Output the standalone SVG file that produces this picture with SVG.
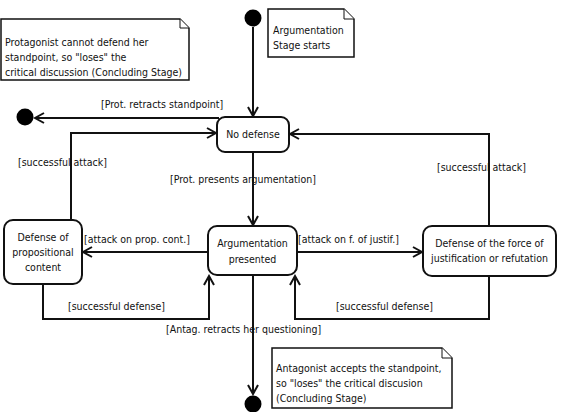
<svg xmlns="http://www.w3.org/2000/svg" width="562" height="412" viewBox="0 0 562 412">
<style>
text{font-family:"DejaVu Sans Condensed","Liberation Sans",sans-serif;font-size:10.5px;fill:#111}
.c{text-anchor:middle}
.st{fill:#fff;stroke:#111;stroke-width:2}
.note{fill:#fff;stroke:#111;stroke-width:1.5}
.fold{fill:#fff;stroke:#111;stroke-width:1}
.ln{fill:none;stroke:#111;stroke-width:2}
.dot{fill:#000}
</style>
<defs>
<marker id="a" markerWidth="12" markerHeight="12" refX="10" refY="6" orient="auto" markerUnits="userSpaceOnUse">
<path d="M1,1 L10,6 L1,11" fill="none" stroke="#111" stroke-width="2"/>
</marker>
</defs>
<rect width="562" height="412" fill="#fff"/>

<g id="note-protagonist">
<path class="note" d="M1,19 H180 L189,28 V80 H1 Z"/>
<path class="fold" d="M180,19 V28 H189"/>
<text x="5" y="46">Protagonist cannot defend her</text>
<text x="5" y="61">standpoint, so "loses" the</text>
<text x="5" y="76">critical discussion (Concluding Stage)</text>
</g>

<g id="note-start">
<path class="note" d="M268,9 H344 L354,19 V57 H268 Z"/>
<path class="fold" d="M344,9 V19 H354"/>
<text x="273" y="34">Argumentation</text>
<text x="273" y="49">Stage starts</text>
</g>

<g id="note-antagonist">
<path class="note" d="M272,348 H442 L452,358 V408 H272 Z"/>
<path class="fold" d="M442,348 V358 H452"/>
<text x="276" y="372">Antagonist accepts the standpoint,</text>
<text x="276" y="387">so "loses" the critical discusion</text>
<text x="276" y="402">(Concluding Stage)</text>
</g>

<g id="initial"><circle class="dot" cx="253" cy="18" r="8.5"/></g>
<g id="final-left"><circle class="dot" cx="25" cy="117" r="8.5"/></g>
<g id="final-bottom"><circle class="dot" cx="253" cy="404" r="8.5"/></g>

<g id="no-defense">
<rect class="st" x="217" y="117" width="72" height="35" rx="8"/>
<text class="c" x="253" y="138">No defense</text>
</g>

<g id="argumentation-presented">
<rect class="st" x="208" y="226" width="89" height="49" rx="9"/>
<text class="c" x="252.5" y="247">Argumentation</text>
<text class="c" x="252.5" y="263">presented</text>
</g>

<g id="defense-prop">
<rect class="st" x="4" y="220" width="78" height="64" rx="9"/>
<text class="c" x="43" y="241">Defense of</text>
<text class="c" x="43" y="256">propositional</text>
<text class="c" x="43" y="271">content</text>
</g>

<g id="defense-force">
<rect class="st" x="423" y="226" width="133" height="50" rx="9"/>
<text class="c" x="489.5" y="247">Defense of the force of</text>
<text class="c" x="489.5" y="262">justification or refutation</text>
</g>

<g id="connectors">
<path class="ln" d="M253,27 V116" marker-end="url(#a)"/>
<path class="ln" d="M219,118 H35" marker-end="url(#a)"/>
<path class="ln" d="M71,220 V133 H216" marker-end="url(#a)"/>
<path class="ln" d="M489,226 V134 H290" marker-end="url(#a)"/>
<path class="ln" d="M253,152 V225" marker-end="url(#a)"/>
<path class="ln" d="M208,252 H83" marker-end="url(#a)"/>
<path class="ln" d="M297,252 H422" marker-end="url(#a)"/>
<path class="ln" d="M43,284 V319 H209 V276" marker-end="url(#a)"/>
<path class="ln" d="M489,276 V319 H295 V276" marker-end="url(#a)"/>
<path class="ln" d="M253,275 V394" marker-end="url(#a)"/>
</g>

<g id="labels">
<text x="101" y="108">[Prot. retracts standpoint]</text>
<text x="18" y="166">[successful attack]</text>
<text x="437" y="171">[successful attack]</text>
<text x="170" y="183">[Prot. presents argumentation]</text>
<text x="84" y="243">[attack on prop. cont.]</text>
<text x="298" y="243">[attack on f. of justif.]</text>
<text x="68" y="310">[successful defense]</text>
<text x="336" y="310">[successful defense]</text>
<text x="166" y="333">[Antag. retracts her questioning]</text>
</g>
</svg>
